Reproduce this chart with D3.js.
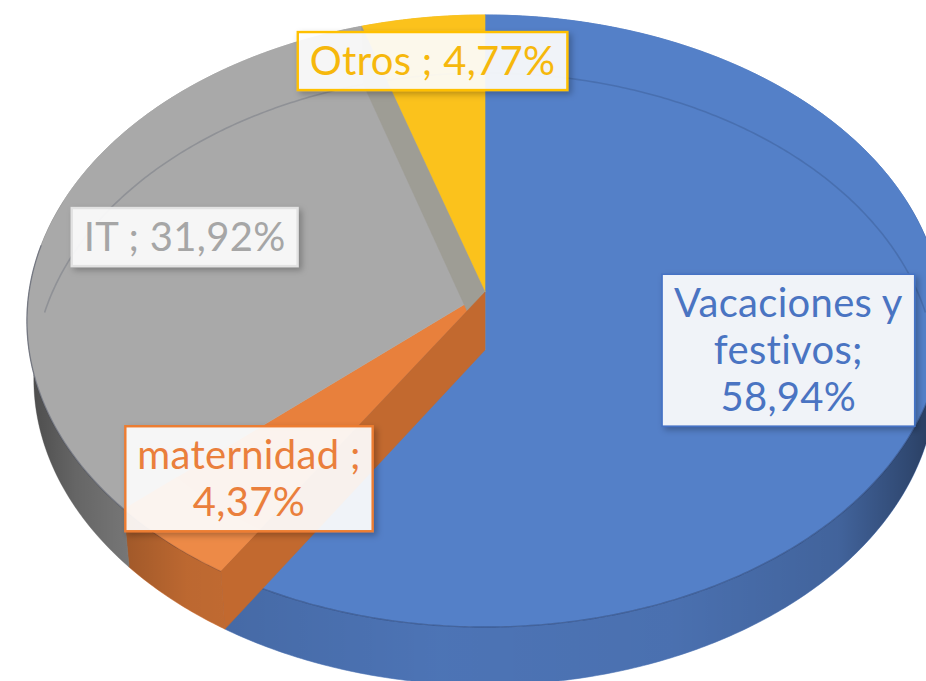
<!DOCTYPE html>
<html>
<head>
<meta charset="utf-8">
<script src="https://cdn.jsdelivr.net/npm/d3@7"></script>
<style>
  html, body { margin: 0; padding: 0; background: #ffffff; }
  svg { display: block; }
</style>
</head>
<body>
<svg id="chart" width="926" height="681"></svg>
<script>
// ---- data ----
const categories = ["Vacaciones y festivos", "maternidad", "IT", "Otros"];
const values = [58.94, 4.37, 31.92, 4.77];
const labelLines = [
  ["Vacaciones y", "festivos;", "58,94%"],
  ["maternidad ;", "4,37%"],
  ["IT ; 31,92%"],
  ["Otros ; 4,77%"]
];

// ---- styles / layout ----
const topColors   = ["#5480c8", "#e8803c", "#a9a9a9", "#fbc21c"];
const textColors  = ["#4a74c2", "#ea7f3c", "#a6a6a6", "#f6b80c"];
const borderColors= ["#4472c4", "#ed7d31", "#e2e2e2", "#ffc000"];
const labelRadius = [0.68, 0.76, 0.695, 0.83];

const W = 926, H = 681;
const CX = 485, CY = 292;      // apex of the pie (projected centre)
const A = 456, B = 303.3, K = 0.0948, DEPTH = 58, BOTTOM_SCALE = 0.985;

const svg = d3.select("#chart");
const defs = svg.append("defs");

const shadow = defs.append("filter").attr("id", "shadow")
  .attr("x", "-20%").attr("y", "-20%").attr("width", "140%").attr("height", "150%");
shadow.append("feDropShadow").attr("dx", 3).attr("dy", 3)
  .attr("stdDeviation", 3).attr("flood-color", "#000").attr("flood-opacity", 0.28);

// side shading gradient (darker towards the left/right extremes)
const sg = defs.append("linearGradient").attr("id", "sideShade")
  .attr("gradientUnits", "userSpaceOnUse")
  .attr("x1", 20).attr("y1", 0).attr("x2", 950).attr("y2", 0);
[[0, 0.55], [0.06, 0.35], [0.18, 0.12], [0.45, 0.02], [0.7, 0.05], [0.88, 0.16], [0.96, 0.4], [1, 0.55]]
  .forEach(([o, a]) => sg.append("stop").attr("offset", o).attr("stop-color", "#000").attr("stop-opacity", a));

// projection of a point on the pie disc (theta clockwise from 12 o'clock, r in 0..1)
function proj(theta, r, bottom) {
  const u = Math.sin(theta) * r, v = Math.cos(theta) * r;
  const w = 1 + K * v;
  let x = CX + A * u / w, y = CY - B * v / w;
  if (bottom) { x = CX + (x - CX) * BOTTOM_SCALE; y += DEPTH; }
  return [x, y];
}
function arcPts(a0, a1, bottom) {
  const n = Math.max(2, Math.ceil(Math.abs(a1 - a0) / 0.01));
  return d3.range(n + 1).map(i => proj(a0 + (a1 - a0) * i / n, 1, bottom));
}
const line = d3.line().curve(d3.curveLinear);

const pie = d3.pie().sort(null).value(d => d);
const arcs = pie(values);

const gSide = svg.append("g");
const gTop = svg.append("g");
const gFace = svg.append("g");
const gLabel = svg.append("g");

// side walls (only the front part is ever visible; back parts are covered by the top faces)
arcs.forEach((a, i) => {
  const pts = arcPts(a.startAngle, a.endAngle, false).concat(arcPts(a.endAngle, a.startAngle, true));
  gSide.append("path")
    .attr("d", line(pts) + "Z")
    .attr("fill", d3.color(topColors[i]).darker(0.22))
    .attr("stroke", d3.color(topColors[i]).darker(0.22))
    .attr("stroke-width", 0.6);
});
// shading overlay for the side band
{
  const a0 = Math.PI * 0.4, a1 = Math.PI * 1.6;
  const pts = arcPts(a0, a1, false).concat(arcPts(a1, a0, true));
  gSide.append("path").attr("d", line(pts) + "Z").attr("fill", "url(#sideShade)");
}

// top faces
arcs.forEach((a, i) => {
  const pts = [proj(0, 0, false)].concat(arcPts(a.startAngle, a.endAngle, false));
  gTop.append("path")
    .attr("d", line(pts) + "Z")
    .attr("fill", topColors[i])
    .attr("stroke", topColors[i])
    .attr("stroke-width", 0.6);
});

// front edge of the top face
gTop.append("path")
  .attr("d", line(arcPts(Math.PI * 0.45, Math.PI * 1.55, false)))
  .attr("fill", "none").attr("stroke", "rgba(20,30,60,0.3)").attr("stroke-width", 1.4);

// inner bevel ring (back edge of the base seen through the top)
gTop.append("path")
  .attr("d", line(arcPts(-Math.PI * 0.46, Math.PI * 0.46, true)))
  .attr("fill", "none").attr("stroke", "rgba(20,30,60,0.17)").attr("stroke-width", 1.6);

// radial cut faces that are visible
function radialFace(theta, color) {
  const pts = [proj(theta, 0, false), proj(theta, 1, false), proj(theta, 1, true), proj(theta, 0, true)];
  gFace.append("path").attr("d", line(pts) + "Z").attr("fill", color)
    .attr("stroke", color).attr("stroke-width", 0.5);
}
radialFace(arcs[2].endAngle, "#9e9d95");                 // IT end face
radialFace(arcs[1].startAngle, "#c2692f");               // maternidad start face
// lighter front rim on the maternidad slice
{
  const a = arcs[1];
  const pts = arcPts(a.startAngle, a.endAngle, false)
    .concat(d3.range(21).map(j => proj(a.endAngle + (a.startAngle - a.endAngle) * j / 20, 0.86, false)));
  gFace.append("path").attr("d", line(pts) + "Z").attr("fill", "#ee8c4a").attr("opacity", 0.8);
}

// labels
const FONT = "Lato, 'Open Sans', 'Noto Sans', sans-serif";
const FS = 40, LH = 47;
arcs.forEach((a, i) => {
  const mid = (a.startAngle + a.endAngle) / 2;
  const [lx, ly] = proj(mid, labelRadius[i], false);
  const lines = labelLines[i];
  const g = gLabel.append("g");
  const rect = g.append("rect");
  const text = g.append("text")
    .attr("font-family", FONT).attr("font-size", FS)
    .attr("letter-spacing", 0.3)
    .attr("fill", textColors[i]).attr("text-anchor", "middle");
  const y0 = ly - (lines.length - 1) * LH / 2 + FS * 0.34;
  lines.forEach((t, j) => text.append("tspan").attr("x", lx).attr("y", y0 + j * LH).text(t));
  const bb = text.node().getBBox();
  const padX = 12;
  const h = lines.length * LH + 11;
  rect.attr("x", bb.x - padX).attr("y", ly - h / 2)
    .attr("width", bb.width + 2 * padX).attr("height", h)
    .attr("fill", "rgba(255,255,255,0.9)")
    .attr("stroke", borderColors[i]).attr("stroke-width", i === 0 ? 1.6 : 2.4)
    .attr("filter", "url(#shadow)");
});
</script>
</body>
</html>
